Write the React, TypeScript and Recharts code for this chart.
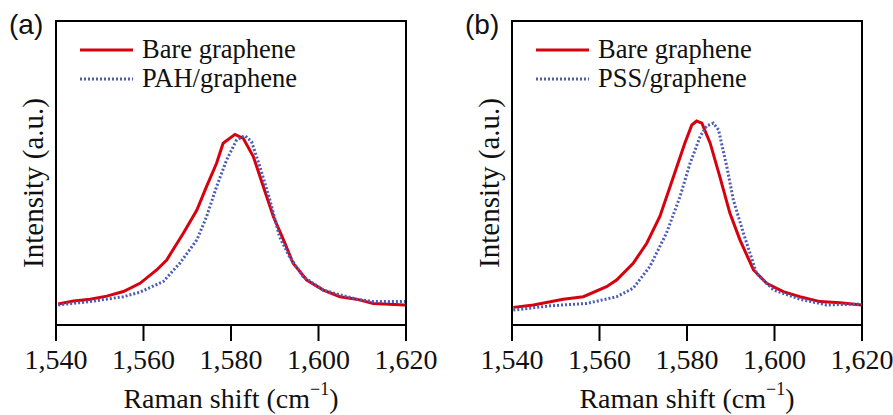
import { LineChart, Line, XAxis, YAxis, ReferenceArea } from "recharts"

// Raman shift (cm-1) vs intensity (a.u., normalised to plot height)
const bareA_x = [1540.5, 1544, 1547.8, 1551.6, 1555.4, 1559.2, 1563, 1565.3, 1569.1, 1572.2, 1574.4, 1576.7, 1578.2, 1580.9, 1582.8, 1585.1, 1587.4, 1589.7, 1592, 1594.2, 1597.3, 1601.1, 1604.9, 1608.7, 1612.5, 1619.8]
const bareA_y = [0.069, 0.079, 0.085, 0.095, 0.11, 0.137, 0.181, 0.214, 0.302, 0.378, 0.455, 0.532, 0.598, 0.627, 0.614, 0.554, 0.455, 0.356, 0.28, 0.203, 0.148, 0.115, 0.093, 0.085, 0.071, 0.066]

const pahA_x = [1540.5, 1547.8, 1555.4, 1559.2, 1564.5, 1568.3, 1572.2, 1574.4, 1576.7, 1579, 1581.3, 1583.2, 1584.7, 1586.6, 1588.9, 1591.1, 1593.4, 1596.5, 1601.1, 1604.9, 1608.7, 1612.5, 1619.8]
const pahA_y = [0.066, 0.077, 0.093, 0.108, 0.143, 0.203, 0.28, 0.356, 0.455, 0.543, 0.609, 0.623, 0.603, 0.521, 0.411, 0.29, 0.224, 0.159, 0.115, 0.099, 0.085, 0.077, 0.077]

const bareB_x = [1540.3, 1544.9, 1551.7, 1556.3, 1561.6, 1563.9, 1567.7, 1570.8, 1573.8, 1576.9, 1579.5, 1581.1, 1582.2, 1583.4, 1585.3, 1587.5, 1589.8, 1592.1, 1595.2, 1598.2, 1602, 1605.8, 1610.4, 1615, 1619.9]
const bareB_y = [0.058, 0.066, 0.085, 0.093, 0.126, 0.148, 0.203, 0.269, 0.357, 0.488, 0.598, 0.658, 0.671, 0.664, 0.598, 0.488, 0.368, 0.28, 0.181, 0.137, 0.11, 0.093, 0.077, 0.073, 0.066]

const pssB_x = [1540.3, 1548.7, 1557.1, 1563.9, 1567.7, 1571.5, 1575.3, 1578.4, 1580.7, 1583, 1584.5, 1586, 1587.2, 1589.1, 1590.6, 1592.9, 1595.9, 1599.8, 1605.8, 1611.9, 1619.9]
const pssB_y = [0.049, 0.063, 0.071, 0.093, 0.121, 0.192, 0.302, 0.422, 0.532, 0.62, 0.655, 0.664, 0.642, 0.521, 0.411, 0.302, 0.17, 0.115, 0.085, 0.066, 0.069]

const xTicks = [1540, 1560, 1580, 1600, 1620]

const toRows = (xs: number[], ys: number[]) => xs.map((x, i) => ({ x, y: ys[i] }))

const RED = "#d7000f"
const BLUE = "#4a5cb4"
const INK = "#111"
const SERIF = "'Liberation Serif', 'Times New Roman', serif"
const AXIS_FONT = 28

const fmt = (v: number) => v.toLocaleString("en-US")

const LegendBox = ({ second }: { second: string }) => (
  <div style={{ position: "absolute", left: 76, top: 35, fontFamily: SERIF, fontSize: 26.5, color: INK, lineHeight: "29px" }}>
    <div style={{ display: "flex", alignItems: "center" }}>
      <svg width={62} height={10}><line x1={4} y1={5} x2={57} y2={5} stroke={RED} strokeWidth={3} /></svg>
      <span style={{ marginLeft: 4 }}>Bare graphene</span>
    </div>
    <div style={{ display: "flex", alignItems: "center" }}>
      <svg width={62} height={10}><line x1={4} y1={5} x2={57} y2={5} stroke={BLUE} strokeWidth={3} strokeDasharray="2 2" /></svg>
      <span style={{ marginLeft: 4 }}>{second}</span>
    </div>
  </div>
)

const XTick = (props: any) => {
  const { x, y, payload } = props
  return (
    <text
      x={x}
      y={y + 16}
      textAnchor="middle"
      dominantBaseline="central"
      fill={INK}
      fontSize={AXIS_FONT}
      fontFamily={SERIF}
      style={{ fontFamily: SERIF, fontSize: AXIS_FONT }}
    >
      {fmt(payload.value)}
    </text>
  )
}

const XLabel = (props: any) => {
  const vb = props.viewBox || {}
  return (
    <text x={vb.x + vb.width / 2} y={398} textAnchor="middle" dominantBaseline="central" fill={INK} fontSize={AXIS_FONT} fontFamily={SERIF}>
      Raman shift (cm<tspan fontSize={18} dy={-9}>−1</tspan><tspan dy={9}>)</tspan>
    </text>
  )
}

const YLabel = (props: any) => {
  const vb = props.viewBox || {}
  const cx = 33
  const cy = vb.y + vb.height / 2 + 10
  return (
    <text x={cx} y={cy} transform={`rotate(-90 ${cx} ${cy})`} textAnchor="middle" dominantBaseline="central" fill={INK} fontSize={29} fontFamily={SERIF}>
      Intensity (a.u.)
    </text>
  )
}

const Panel = ({ tag, bare, other, otherName }: { tag: string; bare: any[]; other: any[]; otherName: string }) => (
  <div style={{ position: "relative", width: 440, height: 415, fontFamily: SERIF }}>
    <LineChart width={440} height={415} margin={{ top: 21, right: 34, left: 0, bottom: 30 }}>
      <XAxis
        type="number"
        dataKey="x"
        domain={[1540, 1620]}
        ticks={xTicks}
        tickSize={16}
        height={60}
        stroke="#000"
        strokeWidth={2}
        tick={<XTick />}
        label={<XLabel />}
        allowDataOverflow
      />
      <YAxis type="number" domain={[0, 1]} width={56} tick={false} axisLine={false} label={<YLabel />} />
      <ReferenceArea x1={1540} x2={1620} y1={0} y2={1} fill="none" stroke="#000" strokeWidth={2} ifOverflow="visible" />
      <Line data={bare} dataKey="y" stroke={RED} strokeWidth={3} dot={false} isAnimationActive={false} type="linear" />
      <Line data={other} dataKey="y" stroke={BLUE} strokeWidth={3} strokeDasharray="2 2" dot={false} isAnimationActive={false} type="linear" />
    </LineChart>
    <LegendBox second={otherName} />
    <div style={{ position: "absolute", left: 9, top: 9, fontFamily: "'Liberation Sans', Arial, sans-serif", fontSize: 28, color: INK }}>{tag}</div>
  </div>
)

export default function App() {
  return (
    <div style={{ position: "absolute", left: 0, top: 0, width: 893, height: 415, background: "#fff" }}>
      <Panel tag="(a)" bare={toRows(bareA_x, bareA_y)} other={toRows(pahA_x, pahA_y)} otherName="PAH/graphene" />
      <div style={{ position: "absolute", left: 456, top: 0 }}>
        <Panel tag="(b)" bare={toRows(bareB_x, bareB_y)} other={toRows(pssB_x, pssB_y)} otherName="PSS/graphene" />
      </div>
    </div>
  )
}
